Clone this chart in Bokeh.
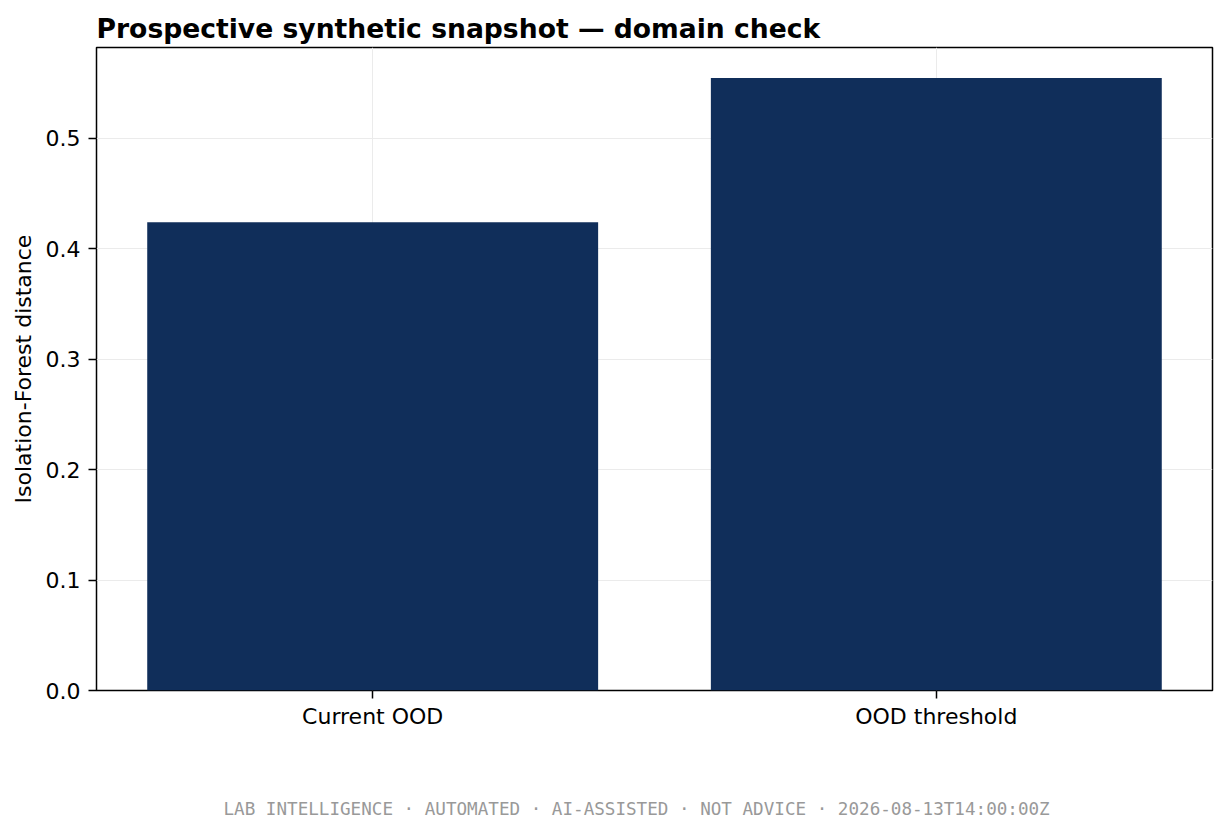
from bokeh.embed import file_html
from bokeh.resources import INLINE
from bokeh.plotting import figure
from bokeh.models import ColumnDataSource, FixedTicker, PrintfTickFormatter, Title, Range1d

# данные
categories = ["Current OOD", "OOD threshold"]
distances = [0.424, 0.5545]
y_ticks = [0.0, 0.1, 0.2, 0.3, 0.4, 0.5]

title_text = "Prospective synthetic snapshot \u2014 domain check"
y_label = "Isolation-Forest distance"
footer_text = "LAB INTELLIGENCE \u00b7 AUTOMATED \u00b7 AI-ASSISTED \u00b7 NOT ADVICE \u00b7 2026-08-13T14:00:00Z"

bar_color = "#102e5a"
font = "DejaVu Sans"

positions = list(range(len(categories)))
source = ColumnDataSource(data=dict(x=positions, top=distances, name=categories))

# поля как у исходной картинки
top_max = max(distances) * 1.05
pad = 0.05 * (len(categories) - 1 + 0.8)

p = figure(width=1219, height=826, output_backend="svg", toolbar_location=None, tools="",
           x_range=Range1d(-0.4 - pad, len(categories) - 0.6 + pad),
           y_range=Range1d(0, top_max),
           min_border_left=96, min_border_right=7, min_border_top=47, min_border_bottom=136)
p.frame_width = 1116
p.frame_height = 643

p.vbar(x="x", top="top", bottom=0, width=0.8, source=source, fill_color=bar_color, line_color=None)

# заголовок
p.title.text = title_text
p.title.text_font = font
p.title.text_font_size = "26.6px"
p.title.text_font_style = "bold"
p.title.text_color = "black"
p.title.align = "left"
p.title.offset = 0
p.title.standoff = 7

# оси
p.xaxis.ticker = FixedTicker(ticks=positions)
p.xaxis.major_label_overrides = {i: c for i, c in zip(positions, categories)}
p.yaxis.ticker = FixedTicker(ticks=y_ticks)
p.yaxis.formatter = PrintfTickFormatter(format="%.1f")
p.yaxis.axis_label = y_label
p.yaxis.axis_label_standoff = 7

for ax in (p.xaxis, p.yaxis):
    ax.major_label_text_font = font
    ax.major_label_text_font_size = "22px"
    ax.major_label_text_color = "black"
    ax.axis_label_text_font = font
    ax.axis_label_text_font_size = "22px"
    ax.axis_label_text_font_style = "normal"
    ax.axis_label_text_color = "black"
    ax.axis_line_color = None
    ax.major_tick_line_color = "black"
    ax.major_tick_line_width = 1.5
    ax.major_tick_out = 8
    ax.major_tick_in = 0
    ax.minor_tick_line_color = None
p.yaxis.major_label_standoff = 8
p.xaxis.major_label_standoff = 5

# сетка и рамка
p.grid.grid_line_color = "#ebebeb"
p.grid.grid_line_width = 1
p.xgrid.ticker = FixedTicker(ticks=positions)
p.ygrid.ticker = FixedTicker(ticks=y_ticks)
p.outline_line_color = "black"
p.outline_line_width = 1.5
p.outline_line_alpha = 1
p.background_fill_color = "white"
p.border_fill_color = "white"

# подпись внизу
footer = Title(text=footer_text, align="left", offset=127, standoff=131,
               text_font="DejaVu Sans Mono", text_font_size="17.6px",
               text_font_style="normal", text_color="#999999")
p.add_layout(footer, "below")

open("out.html", "w").write(file_html(p, INLINE))
